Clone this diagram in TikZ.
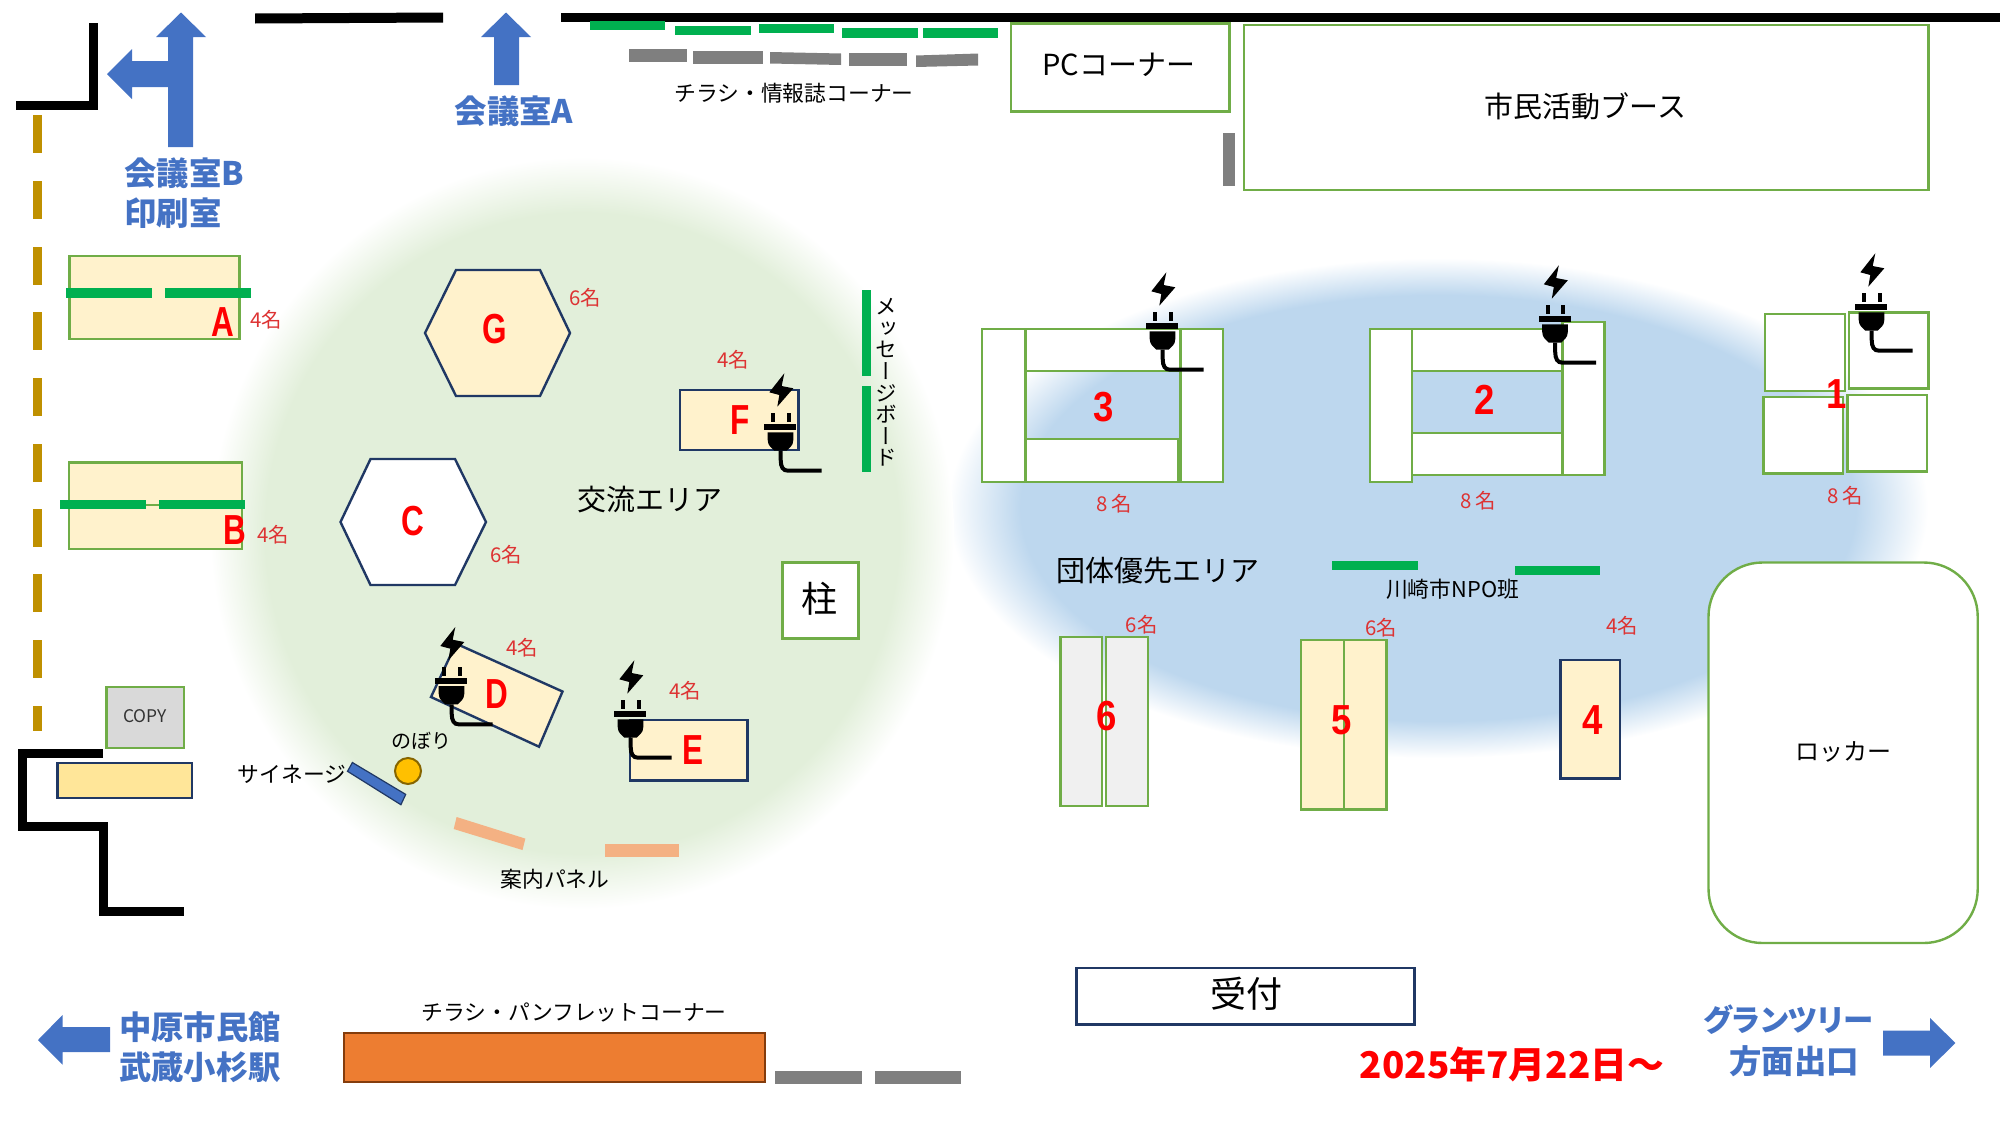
\documentclass[tikz,border=0pt]{standalone}
\usepackage{fontspec}
\setmainfont{Noto Sans CJK JP}
\newfontfamily\vertfont[RawFeature=+vert]{Noto Sans CJK JP}
\newfontfamily\paltfont[RawFeature=+palt]{Noto Sans CJK JP}
\newfontfamily\markfont{Liberation Sans}
\usepackage{amsmath}

\definecolor{wallblack}{HTML}{000000}
\definecolor{roomblue}{HTML}{4472C4}
\definecolor{tablegreen}{HTML}{70AD47}
\definecolor{tablenavy}{HTML}{203864}
\definecolor{tablecream}{HTML}{FFF2CC}
\definecolor{boardgreen}{HTML}{00B050}
\definecolor{racksgray}{HTML}{7F7F7F}
\definecolor{doorgold}{HTML}{BF9000}
\definecolor{areagreen}{HTML}{E2EFDA}
\definecolor{areablue}{HTML}{BDD7EE}
\definecolor{countred}{HTML}{DD3333}
\definecolor{deskyellow}{HTML}{FFE699}
\definecolor{polegold}{HTML}{FFC000}
\definecolor{panelsalmon}{HTML}{F4B183}
\definecolor{shelforange}{HTML}{ED7D31}
\definecolor{shelfbrown}{HTML}{843C0C}
\pgfdeclareradialshading{softgreen}{\pgfpoint{0bp}{0bp}}{color(0bp)=(areagreen); color(21.3bp)=(areagreen); color(25bp)=(white); color(50bp)=(white)}
\pgfdeclareradialshading{softblue}{\pgfpoint{0bp}{0bp}}{color(0bp)=(areablue); color(21.3bp)=(areablue); color(25bp)=(white); color(50bp)=(white)}

\newcommand{\fsz}[1]{\fontsize{#1}{#1}\selectfont}
\newcommand{\nrw}[1]{\scalebox{.75}[1]{#1}}
\newcommand{\nrd}[1]{\scalebox{.87}[1]{#1}}

\tikzset{
    wall/.style={draw=wallblack, line width=4.5pt, miter limit=10},
    greenbox/.style={draw=tablegreen, line width=1.2pt, fill=white},
    creambox/.style={draw=tablegreen, line width=1.2pt, fill=tablecream},
    navybox/.style={draw=tablenavy, line width=1.2pt, fill=tablecream},
    tablemark/.style={font=\markfont\bfseries\fsz{21}, text=red, inner sep=0pt},
    countlabel/.style={font=\fsz{10.2}, text=countred, inner sep=0pt},
    smalltext/.style={font=\fsz{10.9}, inner sep=0pt},
    areatext/.style={font=\fsz{14.5}, inner sep=0pt},
    roomtext/.style={font=\bfseries\fsz{16.2}, text=roomblue, inner sep=0pt},
    plugicon/.pic={
        \fill (4.3,-53.7) -- (-10.7,-34.7) -- (-0.7,-32) -- (-2.7,-20.3) -- (13.3,-38.7) -- (1.7,-41) -- cycle;
        \fill (-9,-13.7) rectangle (-5,-4.7);
        \fill (6.7,-13.7) rectangle (10.7,-4.7);
        \fill (-16,-2.7) rectangle (16,3);
        \fill (-12.3,5.3) -- (13.3,5.3) -- (13.3,13) .. controls (13.3,19) and (9,21) .. (6.7,23.7) -- (-5.7,23.7) .. controls (-8,21) and (-12.3,19) .. (-12.3,13) -- cycle;
        \draw[line width=2pt] (0.7,23.7) -- (0.7,33) .. controls (0.7,40) and (3,43.7) .. (8,43.7) -- (41.7,43.7);
    }
}

\begin{document}
\begin{tikzpicture}[x=0.5pt,y=-0.5pt]
    \useasboundingbox (0,0) rectangle (2000,1125);

    % areas
    \shade[shading=softblue] (1438,508) ellipse (490 and 250);
    \shade[shading=softgreen] (582,533) ellipse (372 and 376);

    % walls
    \draw[wall] (93.5,23) -- (93.5,105.5) -- (16,105.5);
    \fill[wallblack] (255,13.5) -- (443,12.5) -- (443,22.5) -- (255,23.5) -- cycle;
    \fill[wallblack] (561,12.5) rectangle (2000,22);
    \draw[wall] (103,753) -- (22.5,753) -- (22.5,826) -- (103.5,826) -- (103.5,911) -- (184,911);

    % door
    \foreach \y in {115,181,247,312,378,444,509,574,640}
        \fill[doorgold] (32.5,\y) rectangle (42,\y+38);
    \fill[doorgold] (32.5,706) rectangle (42,731);

    % room arrows
    \fill[roomblue] (181,12.5) -- (206,37) -- (193,37) -- (193,147) -- (168,147) -- (168,87) -- (132,87) -- (132,99) -- (107,74) -- (132,49) -- (132,61) -- (168,61) -- (168,37) -- (156,37) -- cycle;
    \fill[roomblue] (506,12.5) -- (531,37) -- (519,37) -- (519,85) -- (494,85) -- (494,37) -- (481,37) -- cycle;
    \fill[roomblue] (38,1040) -- (62.5,1015) -- (62.5,1027) -- (110,1027) -- (110,1052) -- (62.5,1052) -- (62.5,1064.5) -- cycle;
    \fill[roomblue] (1955.4,1043) -- (1930,1018) -- (1930,1030.6) -- (1883,1030.6) -- (1883,1055.5) -- (1930,1055.5) -- (1930,1068) -- cycle;
    \node[roomtext] (roomA) at (514,111) {会議室A};
    \node[roomtext, anchor=west] (roomB) at (124,173) {会議室B};
    \node[roomtext, anchor=west] (printroom) at (124,213) {印刷室};
    \node[roomtext] (hall) at (200,1027) {中原市民館};
    \node[roomtext] (station) at (200,1067) {武蔵小杉駅};
    \node[roomtext, font=\paltfont\bfseries\fsz{15.2}] (grandtree) at (1788.5,1020) {グランツリー};
    \node[roomtext] (exit) at (1794,1061.6) {方面出口};
    \node[font=\bfseries\fsz{18.4}, text=red, inner sep=0pt] (opendate) at (1512,1064) {2025年7月22日～};

    % racks along the top wall
    \fill[boardgreen] (590,21) rectangle (665,30);
    \fill[boardgreen] (675,26) rectangle (751,35);
    \fill[boardgreen] (759,24) rectangle (834,33);
    \fill[boardgreen] (842,28) rectangle (918,37.5);
    \fill[boardgreen] (923,28) rectangle (998,37.5);
    \fill[racksgray] (629,49) rectangle (687,62);
    \fill[racksgray] (693,51) rectangle (763,64);
    \fill[racksgray] (770,52) -- (841,53.5) -- (841,65) -- (770,63.5) -- cycle;
    \fill[racksgray] (849,53) rectangle (907,66);
    \fill[racksgray] (916,55.5) -- (978,53.5) -- (978,65.5) -- (916,67) -- cycle;
    \node[smalltext] (flyers) at (794,93) {チラシ・情報誌コーナー};

    % corners
    \draw[greenbox] (1011,23.5) rectangle (1229.6,111.4);
    \node[areatext] (pccorner) at (1119,65) {PCコーナー};
    \draw[greenbox] (1244,25) rectangle (1928.6,190);
    \node[areatext] (booth) at (1585.5,106) {市民活動ブース};
    \fill[racksgray] (1223,133) rectangle (1235,186);

    % tables A, B
    \draw[creambox] (69.5,256) rectangle (239.5,339);
    \fill[boardgreen] (66,288) rectangle (152,297.5);
    \fill[boardgreen] (165,288) rectangle (251,297.5);
    \node[tablemark] (tabA) at (223,322) {\nrw{A}};
    \node[countlabel] (cntA) at (266,320) {4名};
    \draw[creambox] (69,462.5) rectangle (242,505);
    \draw[creambox] (69,505) rectangle (242,549);
    \fill[boardgreen] (60,500) rectangle (146,509);
    \fill[boardgreen] (159,500) rectangle (245,509);
    \node[tablemark] (tabB) at (235,530) {\nrw{B}};
    \node[countlabel] (cntB) at (273,535) {4名};

    % hexagons
    \draw[navybox] (456,270) -- (540,270) -- (570,333) -- (540,396) -- (456,396) -- (425,333) -- cycle;
    \node[tablemark] (tabG) at (495,329) {\nrw{G}};
    \node[countlabel] (cntG) at (585,298) {6名};
    \draw[navybox, fill=white] (370.5,459) -- (455,459) -- (486,522) -- (455,585) -- (370.5,585) -- (340.5,522) -- cycle;
    \node[tablemark] (tabC) at (413,521) {\nrw{C}};
    \node[countlabel] (cntC) at (506,555) {6名};

    % table F and board
    \draw[navybox] (680,390) rectangle (798.5,450);
    \pic at (780,427) {plugicon};
    \node[tablemark] (tabF) at (740,420) {\nrw{F}};
    \node[countlabel] (cntF) at (733,360) {4名};
    \fill[boardgreen] (861.6,290) rectangle (870.5,376);
    \fill[boardgreen] (861.6,386) rectangle (870.5,472);
    \node[font=\vertfont\fsz{10.8}, align=center, inner sep=0pt] (msgboard) at (886,382.5) {メ\\ッ\\セ\\ー\\ジ\\ボ\\ー\\ド};
    \node[areatext] (koryu) at (650,500) {交流エリア};

    % pillar
    \draw[greenbox] (782.5,562.5) rectangle (858.4,638.6);
    \node[font=\fsz{18}, inner sep=0pt] (pillar) at (819.5,599) {柱};

    % tables D, E
    \draw[navybox] (456,643.6) -- (562.5,691.5) -- (539,746.7) -- (431,697) -- cycle;
    \pic at (451,680.7) {plugicon};
    \node[tablemark] (tabD) at (497,694) {\nrw{D}};
    \node[countlabel] (cntD) at (522,648) {4名};
    \draw[navybox] (630,720) rectangle (747.5,780.5);
    \pic at (630,714) {plugicon};
    \node[tablemark] (tabE) at (693,750) {\nrw{E}};
    \node[countlabel] (cntE) at (685,691) {4名};

    % copy corner
    \draw[greenbox, fill=black!15] (106.5,687) rectangle (183.7,748);
    \node[font=\fsz{8.7}, inner sep=0pt, text=black!80] (copy) at (145,716) {COPY};
    \draw[navybox, fill=deskyellow] (57.4,763) rectangle (192,798);

    % signage and panels
    \draw[tablenavy, fill=roomblue, line width=.6pt] (352.4,762.5) -- (405.7,794.4) -- (400.9,804.7) -- (347.5,771.3) -- cycle;
    \node[smalltext] (signage) at (292,774) {サイネージ};
    \draw[draw=doorgold!70!black, fill=polegold, line width=1pt] (408,771) circle (13);
    \node[smalltext, font=\fsz{10}] (nobori) at (421,741) {のぼり};
    \fill[panelsalmon] (456.6,817) -- (525.4,838.6) -- (522.5,850) -- (453.7,829) -- cycle;
    \fill[panelsalmon] (605,844) rectangle (678.6,856.6);
    \node[smalltext] (panels) at (555,879) {案内パネル};

    % flyer corner
    \draw[draw=shelfbrown, fill=shelforange, line width=1.1pt] (344,1033) rectangle (765,1082);
    \node[smalltext] (pamphlet) at (574,1012) {チラシ・パンフレットコーナー};
    \fill[racksgray] (775,1071) rectangle (862,1084);
    \fill[racksgray] (875,1071) rectangle (961,1084);

    % table 3
    \draw[greenbox] (982,329) rectangle (1025.5,482);
    \draw[greenbox] (1025.5,329) rectangle (1180.5,371);
    \draw[greenbox] (1025.5,439) rectangle (1178,482);
    \draw[greenbox] (1180.5,329) rectangle (1223,482);
    \pic at (1162,326) {plugicon};
    \node[tablemark] (tab3) at (1104,407) {\nrd{3}};
    \node[countlabel] (cnt3) at (1114,504) {8\,名};

    % table 2
    \draw[greenbox] (1370,329) rectangle (1412,482);
    \draw[greenbox] (1412,329) rectangle (1562.5,371);
    \draw[greenbox] (1412,433) rectangle (1562.5,475);
    \draw[greenbox] (1562.5,322) rectangle (1604.5,475);
    \pic at (1554.5,319) {plugicon};
    \node[tablemark] (tab2) at (1485,400) {\nrd{2}};
    \node[countlabel] (cnt2) at (1478,501) {8\,名};

    % table 1
    \draw[greenbox] (1764.7,314) rectangle (1845,391);
    \draw[greenbox] (1849,312.5) rectangle (1928.6,388.6);
    \draw[greenbox] (1763.4,397) rectangle (1843,473.6);
    \draw[greenbox] (1847.6,395) rectangle (1927,471.4);
    \pic at (1871,307) {plugicon};
    \node[tablemark] (tab1) at (1837,394) {\nrd{1}};
    \node[countlabel] (cnt1) at (1845.5,496) {8\,名};

    % group area
    \node[areatext] (dantai) at (1158,571) {団体優先エリア};
    \fill[boardgreen] (1332,561) rectangle (1418,570);
    \fill[boardgreen] (1514.7,566) rectangle (1600,575);
    \node[smalltext] (npo) at (1452.5,589) {川崎市NPO班};

    % tables 6, 5, 4
    \draw[greenbox, fill=black!6] (1060.6,637) rectangle (1102,806);
    \draw[greenbox, fill=black!6] (1106,637) rectangle (1148,806);
    \node[tablemark] (tab6) at (1107,716) {\nrd{6}};
    \node[countlabel] (cnt6) at (1141.6,625) {6名};
    \draw[creambox] (1301,640) rectangle (1344,809.4);
    \draw[creambox] (1344,640) rectangle (1386.5,809.4);
    \node[tablemark] (tab5) at (1342,720) {\nrd{5}};
    \node[countlabel] (cnt5) at (1381,628) {6名};
    \draw[navybox] (1560.6,660) rectangle (1620,778.4);
    \node[tablemark] (tab4) at (1593,720) {\nrd{4}};
    \node[countlabel] (cnt4) at (1622,626) {4名};

    % locker, reception
    \draw[greenbox, rounded corners=27pt] (1708.5,562.5) rectangle (1977.7,943);
    \node[smalltext, font=\fsz{12}] (locker) at (1843.7,752) {ロッカー};
    \draw[navybox, fill=white] (1076.5,968) rectangle (1414.5,1024.5);
    \node[font=\fsz{18}, inner sep=0pt] (reception) at (1246,994) {受付};
\end{tikzpicture}
\end{document}
